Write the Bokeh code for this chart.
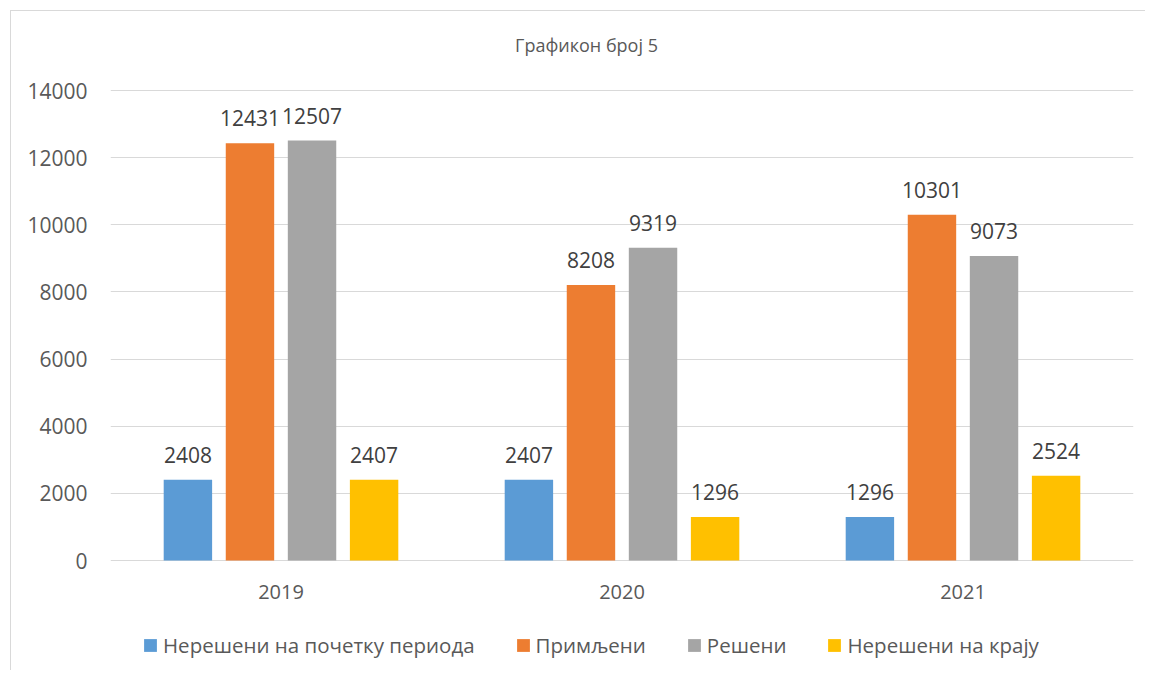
from bokeh.plotting import figure
from bokeh.models import ColumnDataSource, LabelSet, Legend, LegendItem, FixedTicker, Range1d
from bokeh.transform import dodge
from bokeh.core.properties import value
from bokeh.embed import file_html
from bokeh.resources import INLINE

years = ["2019", "2020", "2021"]
series = ["Нерешени на почетку периода", "Примљени", "Решени", "Нерешени на крају"]
unresolved_start = [2408, 2407, 1296]
received = [12431, 8208, 10301]
resolved = [12507, 9319, 9073]
unresolved_end = [2407, 1296, 2524]
values = [unresolved_start, received, resolved, unresolved_end]
colors = ["#5B9BD5", "#ED7D31", "#A5A5A5", "#FFC000"]
y_ticks = [0, 2000, 4000, 6000, 8000, 10000, 12000, 14000]
title_text = "Графикон број 5"

FONT = "Open Sans"
GRID = "#D9D9D9"
TXT = "#595959"

# layout (pixels)
W, H = 1135, 660
LEFT, RIGHT = 99, 13
TOP_PAD = 79             # pixels above the 14000 line
AXIS_PX = 470            # pixel height between 0 and 14000
BOTTOM_PAD = H - TOP_PAD - AXIS_PX
Y_MAX = 14000
y_top = Y_MAX + TOP_PAD / AXIS_PX * Y_MAX
y_min = -BOTTOM_PAD / AXIS_PX * Y_MAX

p = figure(x_range=years, y_range=Range1d(y_min, y_top), width=W, height=H,
           output_backend="svg", toolbar_location=None,
           min_border_left=LEFT, min_border_right=RIGHT,
           min_border_top=0, min_border_bottom=0)
p.background_fill_color = "white"
p.border_fill_color = "white"
p.outline_line_color = None
p.styles = {"margin-left": "10px", "margin-top": "10px",
            "border-left": "1px solid #D9D9D9", "border-top": "1px solid #D9D9D9"}

offsets = [-0.273, -0.091, 0.091, 0.273]
bar_w = 0.142
renderers = []
for name, vals, col, off in zip(series, values, colors, offsets):
    src = ColumnDataSource(dict(x=years, y=vals, t=[str(v) for v in vals]))
    r = p.vbar(x=dodge("x", off, range=p.x_range), top="y", width=bar_w,
               source=src, fill_color=col, line_color=None)
    renderers.append(r)
    lbl = LabelSet(x=dodge("x", off, range=p.x_range), y="y", text="t", source=src,
                   text_align="center", text_baseline="alphabetic", y_offset=17,
                   text_font=value(FONT), text_font_size=value("21px"),
                   text_color="#404040")
    p.add_layout(lbl)

# category labels under the zero line
ysrc = ColumnDataSource(dict(x=years, t=years))
p.add_layout(LabelSet(x="x", y=0, text="t", source=ysrc, text_align="center",
                      text_baseline="middle", y_offset=-31,
                      text_font=value(FONT), text_font_size=value("20px"),
                      text_color=TXT))

# chart title
tsrc = ColumnDataSource(dict(x=[years[1]], y=[Y_MAX], t=[title_text]))
p.add_layout(LabelSet(x="x", y="y", text="t", source=tsrc, text_align="center",
                      text_baseline="alphabetic", x_offset=-35.5, y_offset=39,
                      text_font=value(FONT), text_font_size=value("18px"),
                      text_color=TXT))

p.yaxis.ticker = FixedTicker(ticks=y_ticks)
p.yaxis.axis_line_color = None
p.yaxis.major_tick_line_color = None
p.yaxis.minor_tick_line_color = None
p.yaxis.major_tick_out = 0
p.yaxis.major_tick_in = 0
p.yaxis.major_label_standoff = 23
p.yaxis.major_label_text_font = FONT
p.yaxis.major_label_text_font_size = "21px"
p.yaxis.major_label_text_color = TXT

p.xaxis.visible = False
p.xgrid.grid_line_color = None
p.ygrid.grid_line_color = GRID
p.ygrid.grid_line_width = 1
p.ygrid.ticker = FixedTicker(ticks=y_ticks)

leg = Legend(items=[LegendItem(label=n, renderers=[r]) for n, r in zip(series, renderers)],
             location=(32, 12), orientation="horizontal",
             glyph_width=16, glyph_height=16, label_standoff=5,
             label_text_font=FONT, label_text_font_size="20.5px",
             label_text_color=TXT, label_text_baseline="middle",
             padding=0, margin=0, spacing=40,
             background_fill_alpha=0, border_line_color=None)
p.add_layout(leg)

open("out.html", "w").write(file_html(p, INLINE))
